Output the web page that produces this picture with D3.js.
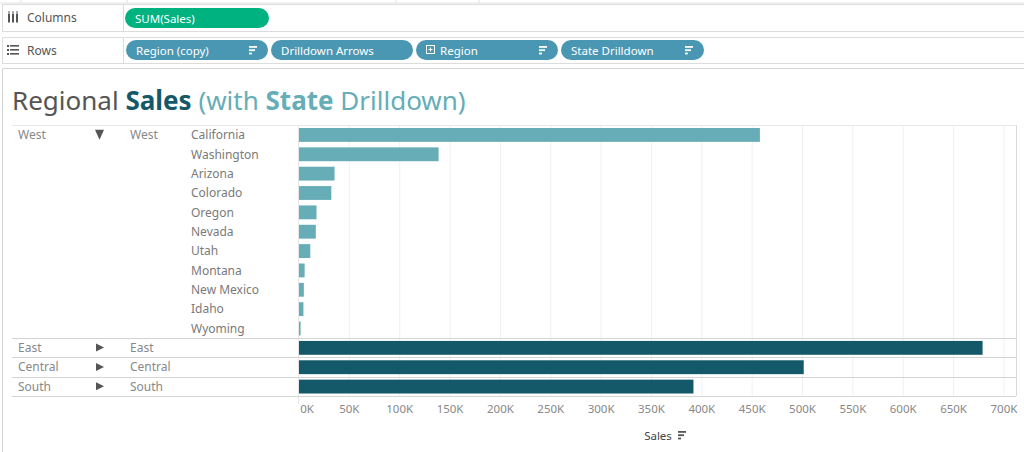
<!DOCTYPE html>
<html>
<head>
<meta charset="utf-8">
<script src="https://cdn.jsdelivr.net/npm/d3@7"></script>
<style>
  body { margin: 0; background: #fff; }
  svg { display: block; font-family: "Noto Sans", sans-serif; }
</style>
</head>
<body>
<svg width="1024" height="452"></svg>
<script>
// data (sales in thousands)
var westStates = ["California", "Washington", "Arizona", "Colorado", "Oregon", "Nevada",
                  "Utah", "Montana", "New Mexico", "Idaho", "Wyoming"];
var westSales = [457.7, 138.6, 35.3, 32.1, 17.4, 16.7, 11.2, 5.6, 4.8, 4.4, 1.6];
var otherRegions = ["East", "Central", "South"];
var otherSales = [678.8, 501.2, 391.7];
var xTicks = [0, 50, 100, 150, 200, 250, 300, 350, 400, 450, 500, 550, 600, 650, 700];

var svg = d3.select("svg");

// build row table
var rows = westStates.map(function(s, i) {
  return { region: "West", state: s, value: westSales[i], west: true, first: i == 0 };
});
otherRegions.forEach(function(r, i) {
  rows.push({ region: r, state: "", value: otherSales[i], west: false, first: true });
});

// note: don't call this "top", window.top is read-only
var paneLeft = 12, paneRight = 1016, paneTop = 125, paneBottom = 396, zero = 298.5;

var x = d3.scaleLinear().domain([0, 712.5]).range([zero, paneRight]);
var y = d3.scaleBand().domain(d3.range(rows.length)).range([paneTop, paneBottom]);

// ---- shelves ----
var shelf = svg.append("g");
shelf.append("rect").attr("x", -1).attr("y", -1).attr("width", 1026).attr("height", 4)
  .attr("fill", "#fff").attr("stroke", "#e2e2e2");
[21, 127, 396, 479].forEach(function(d) {
  shelf.append("line").attr("x1", d).attr("x2", d).attr("y1", 0).attr("y2", 3).attr("stroke", "#e2e2e2");
});

function shelfBox(y0, h, label, icon) {
  shelf.append("rect").attr("x", 2.5).attr("y", y0 + 0.5).attr("width", 1030).attr("height", h)
    .attr("fill", "#fff").attr("stroke", "#dcdcdc");
  shelf.append("line").attr("x1", 123.5).attr("x2", 123.5).attr("y1", y0).attr("y2", y0 + h)
    .attr("stroke", "#dcdcdc");
  shelf.append("text").attr("x", 27).attr("y", y0 + h / 2 + 4.5).attr("font-size", 12)
    .attr("fill", "#555").text(label);
  var g = shelf.append("g").attr("fill", "#555");
  if (icon == "cols") {
    [8, 12, 16].forEach(function(d) {
      g.append("rect").attr("x", d).attr("y", y0 + h / 2 - 4).attr("width", 2).attr("height", 9);
      g.append("rect").attr("x", d).attr("y", y0 + h / 2 - 6).attr("width", 2).attr("height", 1);
    });
  } else {
    [-4, 0, 4].forEach(function(d) {
      g.append("rect").attr("x", 7).attr("y", y0 + h / 2 + d - 1).attr("width", 2).attr("height", 2);
      g.append("rect").attr("x", 10).attr("y", y0 + h / 2 + d - 1).attr("width", 9).attr("height", 1.6);
    });
  }
}
shelfBox(4, 27, "Columns", "cols");
shelfBox(37, 26, "Rows", "rows");

function sortIcon(g, cx, cy, color) {
  [8, 6, 3].forEach(function(w, i) {
    g.append("rect").attr("x", cx).attr("y", cy - 4 + i * 3.3).attr("width", w).attr("height", 1.8)
      .attr("fill", color);
  });
}

function pill(x0, w, y0, label, color, sort, plus) {
  var g = shelf.append("g");
  g.append("rect").attr("x", x0).attr("y", y0).attr("width", w).attr("height", 20)
    .attr("rx", 10).attr("fill", color);
  var tx = x0 + 10;
  if (plus) {
    g.append("rect").attr("x", x0 + 10.5).attr("y", y0 + 5.5).attr("width", 8).attr("height", 8)
      .attr("fill", "none").attr("stroke", "#fff");
    g.append("line").attr("x1", x0 + 12.5).attr("x2", x0 + 16.5).attr("y1", y0 + 9.5).attr("y2", y0 + 9.5).attr("stroke", "#fff");
    g.append("line").attr("x1", x0 + 14.5).attr("x2", x0 + 14.5).attr("y1", y0 + 7.5).attr("y2", y0 + 11.5).attr("stroke", "#fff");
    tx = x0 + 24;
  }
  g.append("text").attr("x", tx).attr("y", y0 + 14.5).attr("font-size", 11.5)
    .attr("fill", "#fff").text(label);
  if (sort) sortIcon(g, x0 + w - 19, y0 + 10, "#fff");
}
pill(125, 144, 8, "SUM(Sales)", "#00b27f", false, false);
pill(126, 142, 40, "Region (copy)", "#4a97b3", true, false);
pill(271, 142, 40, "Drilldown Arrows", "#4a97b3", false, false);
pill(416, 142, 40, "Region", "#4a97b3", true, true);
pill(561, 143, 40, "State Drilldown", "#4a97b3", true, false);

// chart frame
svg.append("path").attr("d", "M2.5,452V68.5H1030").attr("fill", "none").attr("stroke", "#d4d4d4");

// ---- title ----
var title = svg.append("text").attr("x", 12).attr("y", 110).attr("font-size", 26);
title.append("tspan").attr("fill", "#555").text("Regional ");
title.append("tspan").attr("fill", "#13596a").attr("font-weight", "bold").text("Sales");
title.append("tspan").attr("fill", "#67adb7").text(" (with ");
title.append("tspan").attr("fill", "#67adb7").attr("font-weight", "bold").text("State");
title.append("tspan").attr("fill", "#67adb7").text(" Drilldown)");

// ---- gridlines ----
svg.append("g").selectAll("line").data(xTicks.slice(1)).join("line")
  .attr("x1", d => x(d) + 0.5).attr("x2", d => x(d) + 0.5)
  .attr("y1", paneTop).attr("y2", paneBottom)
  .attr("stroke", "#f0f0f0");
svg.append("line").attr("x1", zero).attr("x2", zero).attr("y1", paneTop).attr("y2", paneBottom + 8)
  .attr("stroke", "#e6e6e6");
svg.append("line").attr("x1", paneRight + 0.5).attr("x2", paneRight + 0.5).attr("y1", paneTop).attr("y2", paneBottom)
  .attr("stroke", "#d9d9d9");

// ---- row separators ----
var seps = [paneTop, y(11), y(12), y(13), paneBottom];
svg.append("g").selectAll("line").data(seps).join("line")
  .attr("x1", paneLeft).attr("x2", paneRight)
  .attr("y1", d => Math.round(d) + 0.5).attr("y2", d => Math.round(d) + 0.5)
  .attr("stroke", (d, i) => i == 0 ? "#e8e8e8" : "#d4d4d4");

// ---- bars ----
svg.append("g").selectAll("rect").data(rows).join("rect")
  .attr("x", zero + 0.5)
  .attr("y", (d, i) => y(i) + 3)
  .attr("height", y.bandwidth() - 5.5)
  .attr("width", d => Math.max(1.5, x(d.value) - zero))
  .attr("fill", d => d.west ? "#67adb7" : "#13596a");

// ---- row headers ----
var hdr = svg.append("g").attr("font-size", 12).attr("fill", "#7a7a7a");
rows.forEach(function(d, i) {
  var cy = y(i) + y.bandwidth() / 2 + 4.5;
  if (d.first) {
    hdr.append("text").attr("x", 18).attr("y", cy).attr("fill", "#888").text(d.region);
    hdr.append("text").attr("x", 130).attr("y", cy).attr("fill", "#888").text(d.region);
    var ay = y(i) + y.bandwidth() / 2;
    if (d.west) {
      hdr.append("path").attr("d", "M95," + (ay - 5) + "h9l-4.5,10z").attr("fill", "#555");
    } else {
      hdr.append("path").attr("d", "M96," + (ay - 4) + "v8l8,-4z").attr("fill", "#555");
    }
  }
  if (d.state) hdr.append("text").attr("x", 191).attr("y", cy).text(d.state);
});

// ---- axis ----
var axis = svg.append("g").attr("transform", "translate(0," + (paneBottom + 6) + ")")
  .call(d3.axisBottom(x).tickValues(xTicks).tickSize(0).tickFormat(d => d + "K"));
axis.select(".domain").remove();
axis.selectAll("text").attr("font-size", 11.5).attr("fill", "#888")
  .attr("font-family", "Noto Sans, sans-serif")
  .attr("dx", d => d == 0 ? 8 : 0);

svg.append("text").attr("x", 658).attr("y", 440).attr("text-anchor", "middle")
  .attr("font-size", 11.5).attr("fill", "#444").text("Sales");
sortIcon(svg.append("g"), 678, 435, "#555");
</script>
</body>
</html>
